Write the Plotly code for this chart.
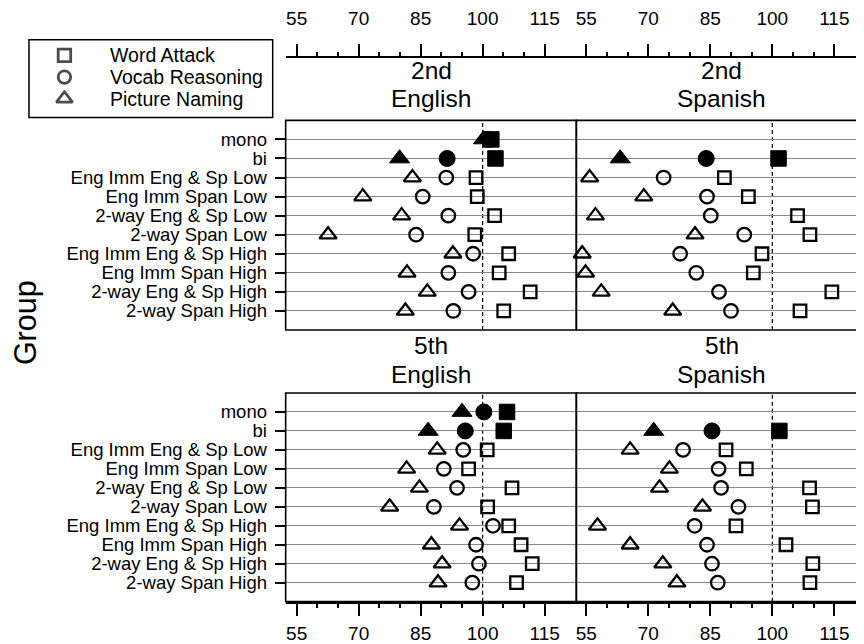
import plotly.graph_objects as go

# ---------------- data ----------------
groups = ["mono", "bi", "Eng Imm Eng & Sp Low", "Eng Imm Span Low",
          "2-way Eng & Sp Low", "2-way Span Low", "Eng Imm Eng & Sp High",
          "Eng Imm Span High", "2-way Eng & Sp High", "2-way Span High"]
measures = ["Word Attack", "Vocab Reasoning", "Picture Naming"]
grades = ["2nd", "5th"]
languages = ["English", "Spanish"]
x_tick_labels = [55, 70, 85, 100, 115]
reference_score = 100

word_attack_2nd_eng = [102.1, 103.1, 98.4, 98.7, 102.9, 98.1, 106.3, 104.0, 111.5, 105.1]
vocab_2nd_eng = [101.5, 91.4, 91.2, 85.5, 91.7, 83.9, 97.7, 91.7, 96.6, 92.9]
picture_2nd_eng = [100.2, 79.9, 83.0, 71.0, 80.4, 62.6, 92.8, 81.7, 86.6, 81.3]

word_attack_2nd_spa = [None, 101.5, 88.4, 94.2, 106.1, 109.1, 97.5, 95.4, 114.4, 106.7]
vocab_2nd_spa = [None, 84.0, 73.7, 84.2, 85.1, 93.2, 77.7, 81.6, 87.1, 90.0]
picture_2nd_spa = [None, 63.2, 55.8, 68.9, 57.2, 81.3, 54.0, 54.8, 58.6, 75.9]

word_attack_5th_eng = [105.9, 105.1, 101.1, 96.6, 107.1, 101.2, 106.3, 109.3, 112.0, 108.2]
vocab_5th_eng = [100.3, 95.8, 95.3, 90.6, 93.8, 88.2, 102.5, 98.4, 99.1, 97.5]
picture_5th_eng = [95.0, 86.8, 89.0, 81.6, 84.7, 77.5, 94.4, 87.6, 90.2, 89.2]

word_attack_5th_spa = [None, 101.7, 88.8, 93.7, 109.0, 109.7, 91.2, 103.3, 109.8, 109.1]
vocab_5th_spa = [None, 85.4, 78.4, 87.0, 87.6, 91.8, 81.2, 84.2, 85.4, 86.8]
picture_5th_spa = [None, 71.3, 65.6, 75.1, 72.7, 83.1, 57.7, 65.6, 73.5, 76.9]

# ---------------- layout helpers ----------------
# the page body has an 8px margin, so the figure is drawn 8px in from the corner
OFF = 8
W, H = 864 - OFF, 644 - OFF
FONT = "Liberation Sans, Arial, Helvetica, sans-serif"


def px(x):
    return (x - OFF) / W


def py(y):
    return 1 - (y - OFF) / H


open_symbols = {"Word Attack": "square-open", "Vocab Reasoning": "circle-open",
                "Picture Naming": "triangle-up-open"}
filled_symbols = {"Word Attack": "square", "Vocab Reasoning": "circle",
                  "Picture Naming": "triangle-up"}
open_sizes = {"Word Attack": 12.5, "Vocab Reasoning": 13.5, "Picture Naming": 15}
filled_sizes = {"Word Attack": 15.5, "Vocab Reasoning": 16, "Picture Naming": 17.5}
filled_groups = {"mono", "bi"}

panels = [
    ("2nd", "English", [word_attack_2nd_eng, vocab_2nd_eng, picture_2nd_eng], "x", "y"),
    ("2nd", "Spanish", [word_attack_2nd_spa, vocab_2nd_spa, picture_2nd_spa], "x2", "y2"),
    ("5th", "English", [word_attack_5th_eng, vocab_5th_eng, picture_5th_eng], "x3", "y3"),
    ("5th", "Spanish", [word_attack_5th_spa, vocab_5th_spa, picture_5th_spa], "x4", "y4"),
]

fig = go.Figure()

for grade, lang, series, xa, ya in panels:
    for m, vals in zip(measures, series):
        syms = [filled_symbols[m] if g in filled_groups else open_symbols[m] for g in groups]
        sizes = [filled_sizes[m] if g in filled_groups else open_sizes[m] for g in groups]
        lws = [1 if g in filled_groups else 2.3 for g in groups]
        fig.add_trace(go.Scatter(
            x=vals, y=groups, mode="markers", name=m, showlegend=False,
            xaxis=xa, yaxis=ya, cliponaxis=False,
            marker=dict(symbol=syms, size=sizes, color="black", opacity=1,
                        line=dict(color="black", width=lws)),
            hovertemplate=f"{grade} {lang}<br>%{{y}}<br>{m}: %{{x}}<extra></extra>",
        ))

# legend entries drawn on a hidden helper axis
legend_order = list(reversed(measures))
fig.add_trace(go.Scatter(
    x=[35.5] * len(measures), y=measures, mode="markers", showlegend=False,
    xaxis="x5", yaxis="y5", hoverinfo="skip",
    marker=dict(symbol=[open_symbols[m] for m in measures],
                size=[12.5, 12.5, 14], color="black",
                line=dict(color="black", width=2.8)),
))

left_dom = [px(285), px(576)]
right_dom = [px(576), 1.0]
top_dom = [py(326), py(113)]
bot_dom = [py(602), py(390)]
left_range = [52.34, 122.67]
right_range = [52.58, 122.18]
minor_vals = [60, 65, 75, 80, 90, 95, 105, 110]

xcommon = dict(showline=True, linecolor="black", linewidth=1.5,
               ticks="outside", ticklen=13, tickwidth=1.5, tickcolor="black",
               tickvals=x_tick_labels, ticktext=[str(v) for v in x_tick_labels],
               minor=dict(tickvals=minor_vals, ticks="outside", ticklen=5,
                          tickwidth=1.5, tickcolor="black", showgrid=False),
               showgrid=False, zeroline=False, fixedrange=True,
               tickfont=dict(size=19, color="black", family=FONT))

cat_order = list(reversed(groups))
ycommon = dict(type="category", categoryorder="array", categoryarray=cat_order,
               tickmode="array", tickvals=groups, ticktext=groups,
               range=[-1, 10], showgrid=True, gridcolor="#8a8a8a", gridwidth=1,
               zeroline=False, showline=False, fixedrange=True)

fig.update_layout(
    width=W, height=H,
    margin=dict(l=0, r=0, t=0, b=0),
    paper_bgcolor="white", plot_bgcolor="white",
    font=dict(family=FONT, color="black"),
    xaxis=dict(domain=left_dom, range=left_range, anchor="free", position=py(49),
               side="top", ticklabelstandoff=11, **xcommon),
    xaxis2=dict(domain=right_dom, range=right_range, anchor="free", position=py(49),
                side="top", ticklabelstandoff=11, **xcommon),
    xaxis3=dict(domain=left_dom, range=left_range, anchor="y3", side="bottom",
                ticklabelstandoff=1, **xcommon),
    xaxis4=dict(domain=right_dom, range=right_range, anchor="y4", side="bottom",
                ticklabelstandoff=1, **xcommon),
    yaxis=dict(domain=top_dom, anchor="x", ticks="outside", ticklen=10, tickwidth=1.5,
               tickcolor="black", ticklabelstandoff=4,
               tickfont=dict(size=18.5, color="black", family=FONT), **ycommon),
    yaxis2=dict(domain=top_dom, anchor="x2", ticks="", showticklabels=False, **ycommon),
    yaxis3=dict(domain=bot_dom, anchor="x3", ticks="outside", ticklen=10, tickwidth=1.5,
                tickcolor="black", ticklabelstandoff=4,
                tickfont=dict(size=18.5, color="black", family=FONT), **ycommon),
    yaxis4=dict(domain=bot_dom, anchor="x4", ticks="", showticklabels=False, **ycommon),
    xaxis5=dict(domain=[px(28), px(272)], range=[0, 244], visible=False, fixedrange=True),
    yaxis5=dict(domain=[py(110), py(31)], type="category", categoryorder="array",
                categoryarray=legend_order, range=[-0.864, 2.727], visible=False,
                fixedrange=True, anchor="x5"),
)

shapes = []
# panel borders
for x0, x1, y0, y1 in [(285, 576, 113, 326), (576, 868, 113, 326),
                       (285, 576, 390, 602), (576, 868, 390, 602)]:
    shapes.append(dict(type="rect", xref="paper", yref="paper",
                       x0=px(x0), x1=px(x1), y0=py(y1), y1=py(y0),
                       line=dict(color="black", width=1.6), layer="above"))
# dashed reference line at 100
for xa, ya in [("x", "y"), ("x2", "y2"), ("x3", "y3"), ("x4", "y4")]:
    shapes.append(dict(type="line", xref=xa, yref=f"{ya} domain",
                       x0=reference_score, x1=reference_score, y0=0, y1=1,
                       line=dict(color="black", width=1.2, dash="4px,3px"), layer="below"))
# legend box
shapes.append(dict(type="rect", xref="paper", yref="paper",
                   x0=px(28), x1=px(272), y0=py(110), y1=py(31),
                   line=dict(color="black", width=1.5)))
fig.update_layout(shapes=shapes)

annotations = []
strip_font = dict(size=24.5, color="black", family=FONT)
strip_rows = {"2nd": (62.5, 91), "5th": (342, 371.5)}
strip_cols = {"English": 430.5, "Spanish": 721.5}
for grade in grades:
    for lang in languages:
        y1, y2 = strip_rows[grade]
        xc = strip_cols[lang]
        annotations.append(dict(text=grade, x=px(xc), y=py(y1), xref="paper", yref="paper",
                                showarrow=False, xanchor="center", yanchor="middle",
                                font=strip_font))
        annotations.append(dict(text=lang, x=px(xc), y=py(y2), xref="paper", yref="paper",
                                showarrow=False, xanchor="center", yanchor="middle",
                                font=strip_font))
# legend labels
for m in measures:
    annotations.append(dict(text=m, x=79, y=m, xref="x5", yref="y5", showarrow=False,
                            xanchor="left", yanchor="middle",
                            font=dict(size=19.5, color="black", family=FONT)))
# y axis title
annotations.append(dict(text="Group", x=px(24), y=py(318), xref="paper", yref="paper",
                        showarrow=False, textangle=-90, xanchor="center", yanchor="middle",
                        font=dict(size=30.5, color="black", family=FONT)))
fig.update_layout(annotations=annotations)

fig.write_html("out.html")
